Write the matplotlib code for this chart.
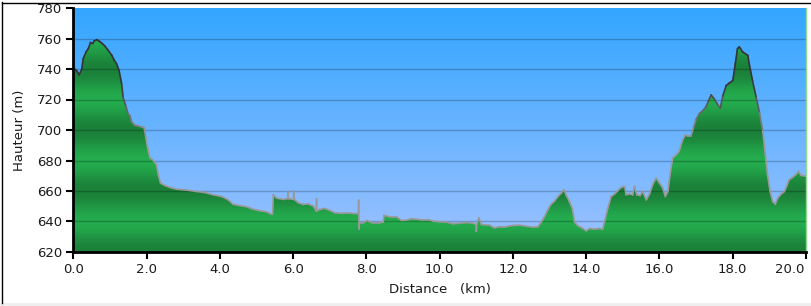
import numpy as np
import matplotlib
matplotlib.use("Agg")
import matplotlib.pyplot as plt
from matplotlib.patches import Polygon, Rectangle
from matplotlib.collections import LineCollection
from matplotlib.lines import Line2D
import matplotlib.transforms as mtransforms

# ---- data (distance in km, elevation in m) ----
dist = [0.00, 0.09, 0.16, 0.23, 0.27, 0.35, 0.41, 0.47, 0.53, 0.56, 0.64, 0.71, 0.79, 0.86, 0.95,
        1.05, 1.12, 1.18, 1.25, 1.32, 1.36, 1.43, 1.50, 1.55, 1.59, 1.68, 1.77, 1.86, 1.93, 1.98,
        2.03, 2.09, 2.18, 2.27, 2.32, 2.38, 2.50, 2.64, 2.82, 3.09, 3.36, 3.59, 3.82, 4.05, 4.23,
        4.36, 4.55, 4.73, 4.91, 5.09, 5.27, 5.41, 5.44, 5.46, 5.55, 5.73, 5.85, 5.86, 5.87, 6.01,
        6.02, 6.03, 6.14, 6.27, 6.41, 6.55, 6.63, 6.64, 6.65, 6.73, 6.86, 7.00, 7.14, 7.36, 7.59,
        7.78, 7.79, 7.80, 7.81, 7.91, 8.02, 8.14, 8.36, 8.46, 8.48, 8.64, 8.82, 8.96, 9.09, 9.23,
        9.45, 9.68, 9.82, 10.00, 10.18, 10.36, 10.55, 10.73, 10.91, 10.99, 11.00, 11.01, 11.07, 11.14,
        11.36, 11.50, 11.64, 11.82, 12.00, 12.18, 12.36, 12.55, 12.68, 12.77, 12.86, 12.95, 13.04,
        13.14, 13.23, 13.32, 13.39, 13.45, 13.54, 13.62, 13.68, 13.77, 13.91, 14.00, 14.09, 14.23,
        14.36, 14.45, 14.50, 14.59, 14.68, 14.77, 14.86, 14.95, 15.05, 15.09, 15.18, 15.27, 15.32,
        15.38, 15.47, 15.54, 15.64, 15.73, 15.82, 15.91, 16.00, 16.09, 16.16, 16.23, 16.29, 16.36,
        16.45, 16.54, 16.62, 16.70, 16.77, 16.86, 16.93, 17.00, 17.09, 17.18, 17.27, 17.34, 17.41,
        17.50, 17.59, 17.66, 17.73, 17.82, 17.91, 18.00, 18.07, 18.13, 18.18, 18.27, 18.41, 18.45,
        18.54, 18.64, 18.73, 18.82, 18.89, 18.95, 19.02, 19.09, 19.16, 19.23, 19.32, 19.41, 19.47,
        19.54, 19.63, 19.72, 19.80, 19.86, 20.00]
elev = [740.8, 739.0, 736.2, 740.0, 746.8, 751.2, 753.4, 757.4, 756.7, 758.2, 759.3, 758.2, 756.7, 755.1, 752.3,
        749.0, 745.7, 743.5, 739.0, 730.2, 721.4, 715.9, 710.4, 709.3, 705.5, 703.1, 702.7, 702.0, 701.6, 695.0,
        688.3, 681.8, 680.2, 677.3, 670.7, 665.2, 663.6, 662.3, 661.2, 660.6, 659.7, 659.0, 657.5, 656.4, 654.2,
        651.3, 650.4, 649.7, 648.0, 647.1, 646.4, 644.7, 645.0, 657.5, 655.3, 654.5, 655.0, 659.5, 655.0, 654.5,
        660.0, 654.5, 652.3, 651.2, 651.6, 650.1, 647.0, 655.0, 647.0, 647.9, 648.6, 647.3, 645.7, 645.3, 645.3,
        645.1, 654.0, 635.0, 639.0, 639.1, 640.7, 639.3, 639.3, 639.6, 644.0, 643.1, 643.1, 640.7, 640.9, 641.8,
        641.3, 641.3, 640.2, 639.8, 639.6, 638.5, 638.9, 639.3, 638.9, 638.0, 633.5, 638.0, 642.4, 638.0,
        637.6, 635.8, 636.7, 636.7, 637.4, 637.6, 636.9, 636.3, 636.5, 639.5, 643.1, 647.5, 651.3,
        653.5, 656.4, 658.6, 660.8, 657.5, 653.1, 648.6, 639.8, 637.2, 635.4, 633.9, 635.4, 635.0,
        635.4, 635.0, 639.8, 648.6, 656.4, 657.9, 660.1, 662.3, 663.0, 657.5, 658.1, 657.5, 663.0,
        657.5, 657.0, 659.7, 654.2, 658.1, 664.5, 668.5, 665.2, 661.9, 656.4, 659.7, 670.7, 681.7,
        683.5, 686.1, 692.7, 696.7, 696.0, 696.0, 701.6, 707.1, 710.8, 712.6, 715.2, 719.2, 723.0,
        720.3, 716.6, 714.4, 722.5, 729.1, 730.9, 732.4, 743.5, 753.4, 754.5, 751.2, 749.0, 743.5,
        732.4, 721.4, 711.5, 699.4, 683.9, 670.7, 659.7, 653.1, 651.3, 655.3, 657.9, 659.7, 663.0,
        667.4, 668.9, 670.7, 672.9, 670.3, 669.6]

yticks = [620, 640, 660, 680, 700, 720, 740, 760, 780]
xticks = [0, 2, 4, 6, 8, 10, 12, 14, 16, 18, 20]
xlabel = "Distance   (km)"
ylabel = "Hauteur (m)"

YMIN, YMAX = 620, 780
XMIN, XMAX = 0.0, 20.0

fig = plt.figure(figsize=(8.11, 3.06), dpi=100, facecolor="white")
ax = fig.add_axes([73.3 / 811, 1 - 252 / 306, (806 - 73.3) / 811, (252 - 8) / 306])
ax.set_xlim(XMIN, XMAX)
ax.set_ylim(YMIN, YMAX)

# sky gradient
H = 400
yy = np.linspace(YMIN, YMAX, H)
t = (yy - YMIN) / (YMAX - YMIN)
top = np.array([51, 166, 255]) / 255
bot = np.array([160, 194, 255]) / 255
sky = (bot[None, :] * (1 - t[:, None]) + top[None, :] * t[:, None])[:, None, :]
ax.imshow(sky, extent=[XMIN, XMAX, YMIN, YMAX], origin="lower", aspect="auto",
          interpolation="bilinear", zorder=0)

# green banded fill clipped to profile
light = np.array([36, 172, 78]) / 255
dark = np.array([27, 128, 57]) / 255
w = 0.5 + 0.5 * np.cos(2 * np.pi * (yy - 620) / 40.0)
green = (light[None, :] * (1 - w[:, None]) + dark[None, :] * w[:, None])[:, None, :]
verts = [(dist[0], YMIN)] + list(zip(dist, elev)) + [(dist[-1], YMIN)]
poly = Polygon(verts, closed=True, facecolor="none", edgecolor="none")
ax.add_patch(poly)
im = ax.imshow(green, extent=[XMIN, XMAX, YMIN, YMAX], origin="lower", aspect="auto",
               interpolation="bilinear", zorder=1)
im.set_clip_path(poly)

# grid lines
for yv in yticks[1:-1]:
    ax.axhline(yv, color=(0, 0, 0, 0.22), lw=1.0, zorder=2)

# outline with height-dependent colour
pts = np.column_stack([dist, elev])
segs = np.stack([pts[:-1], pts[1:]], axis=1)
mid = (pts[:-1, 1] + pts[1:, 1]) / 2
f = np.clip((mid - 695) / 35.0, 0, 1)
gray = np.array([0.6, 0.6, 0.6])
blk = np.array([0.2, 0.2, 0.22])
cols = gray[None, :] * (1 - f[:, None]) + blk[None, :] * f[:, None]
lc = LineCollection(segs, colors=cols, linewidths=1.2, zorder=3, capstyle="round", joinstyle="round")
ax.add_collection(lc)

# axes styling
ax.spines["top"].set_visible(False)
ax.spines["right"].set_color("#8fd88f")
ax.spines["right"].set_linewidth(1.0)
ax.spines["left"].set_linewidth(2.0)
ax.spines["bottom"].set_linewidth(2.0)
ax.spines["left"].set_zorder(5)
ax.spines["bottom"].set_zorder(5)
ax.set_yticks(yticks)
ax.set_yticklabels([str(v) for v in yticks])
ax.set_xticks(xticks)
ax.set_xticklabels([f"{v:.1f}" for v in xticks])
ax.tick_params(axis="both", direction="out", length=5, width=1.5, labelsize=9.5,
               colors="black", labelcolor="#1a1a1a")
ax.tick_params(axis="y", pad=3)
ax.tick_params(axis="x", pad=3)
ax.set_xlabel(xlabel, fontsize=9.5, color="#1a1a1a", labelpad=5)
ax.set_ylabel(ylabel, fontsize=9.5, color="#1a1a1a", labelpad=8)

# keep the last x label inside the figure (shifted left of its tick as in the reference)
lbls = ax.get_xticklabels()
last = lbls[-1]
last.set_horizontalalignment("right")
last.set_transform(last.get_transform() + mtransforms.ScaledTranslation(-2 / 100, 0, fig.dpi_scale_trans))

# outer frame
fig.add_artist(Line2D([1.5 / 811, 1.5 / 811], [1 - 303 / 306, 1 - 2 / 306], color="black",
                      lw=1.0, transform=fig.transFigure))
fig.add_artist(Line2D([1.5 / 811, 1.0], [1 - 2.5 / 306, 1 - 2.5 / 306], color="black",
                      lw=1.0, transform=fig.transFigure))
fig.add_artist(Rectangle((0, 0), 1, 3 / 306, transform=fig.transFigure, facecolor="#eeeeee",
                         edgecolor="none"))

fig.savefig("out.png", dpi=100, facecolor="white")
